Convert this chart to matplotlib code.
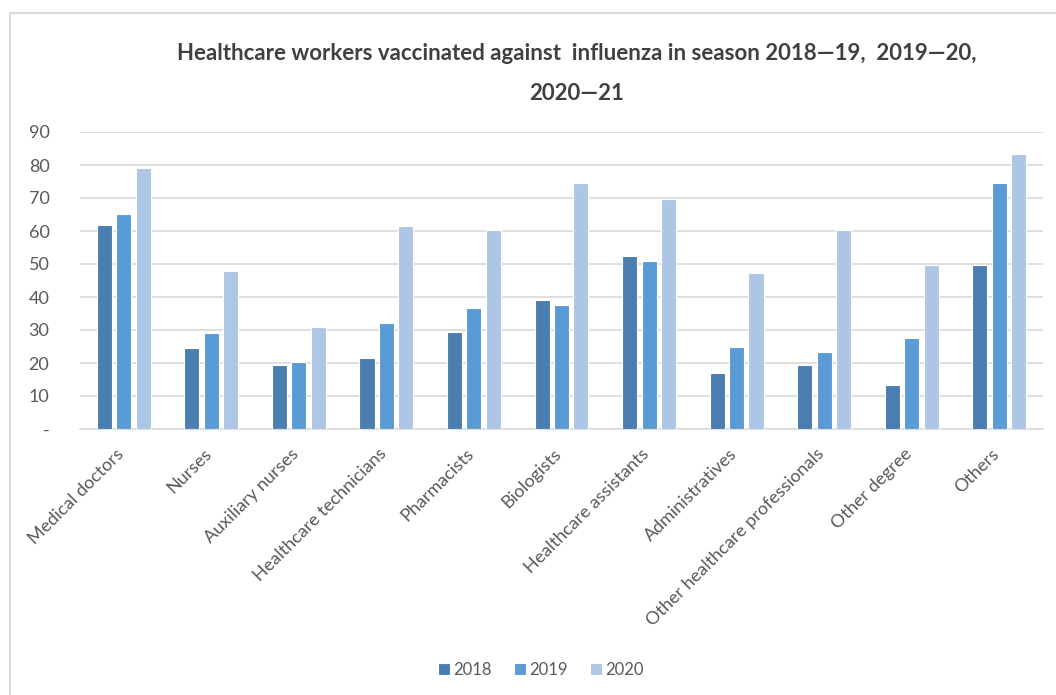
import matplotlib
matplotlib.use("Agg")
import matplotlib.pyplot as plt
import numpy as np
from matplotlib.patches import Rectangle
import matplotlib.transforms as mtransforms

categories = ["Medical doctors", "Nurses", "Auxiliary nurses", "Healthcare technicians",
              "Pharmacists", "Biologists", "Healthcare assistants", "Administratives",
              "Other healthcare professionals", "Other degree", "Others"]
v2018 = [61.7, 24.5, 19.4, 21.4, 29.5, 39.1, 52.3, 16.9, 19.4, 13.4, 49.8]
v2019 = [65.0, 29.0, 20.4, 32.0, 36.6, 37.6, 50.8, 25.0, 23.4, 27.5, 74.6]
v2020 = [79.0, 47.8, 31.0, 61.4, 60.4, 74.6, 69.6, 47.3, 60.4, 49.8, 83.2]
series_labels = ["2018", "2019", "2020"]
yticks = [0, 10, 20, 30, 40, 50, 60, 70, 80, 90]
ytick_labels = ["-", "10", "20", "30", "40", "50", "60", "70", "80", "90"]
title1 = "Healthcare workers vaccinated against  influenza in season 2018\u201419,  2019\u201420,"
title2 = "2020\u201421"

colors = ["#4A7EB0", "#5B9BD5", "#ADC6E5"]
W, H = 1056, 695
plt.rcParams['font.family'] = ['Lato', 'DejaVu Sans']
fig = plt.figure(figsize=(W / 100, H / 100), dpi=100)

# frame
fig.patches.append(Rectangle((10 / W, -0.2), 1.2, 1 - 13 / H + 0.2, transform=fig.transFigure,
                             fill=False, edgecolor="#D9D9D9", linewidth=1.5))

ax = fig.add_axes([80 / W, (H - 429) / H, (1043 - 80) / W, (429 - 132) / H])
x = np.arange(len(categories))
bw = 0.172
step = 0.222
for i, (vals, c, lab) in enumerate(zip([v2018, v2019, v2020], colors, series_labels)):
    ax.bar(x + (i - 1) * step, vals, width=bw, color=c, edgecolor="white", linewidth=0.8,
           label=lab, zorder=3)

ax.set_xlim(-0.5, len(categories) - 0.5)
ax.set_ylim(0, 90)
ax.set_yticks(yticks)
ax.set_yticklabels(ytick_labels)
ax.grid(axis="y", color="#D9D9D9", linewidth=1.2, zorder=0)
for s in ["top", "right", "left"]:
    ax.spines[s].set_visible(False)
ax.spines["bottom"].set_color("#D9D9D9")
ax.spines["bottom"].set_linewidth(1.2)
ax.tick_params(axis="both", length=0, colors="#595959", labelsize=13)
ax.tick_params(axis="y", pad=22)
ax.tick_params(axis="x", pad=12)
ax.set_xticks(x)
ax.set_xticklabels(categories, rotation=45, ha="right", rotation_mode="anchor")
off = mtransforms.ScaledTranslation(-8 / 100, 0, fig.dpi_scale_trans)
for lbl in ax.get_xticklabels():
    lbl.set_transform(lbl.get_transform() + off)

fig.text(577 / W, 1 - 53 / H, title1, ha="center", va="center", fontsize=16,
         fontweight="bold", color="#404040")
fig.text(577 / W, 1 - 93 / H, title2, ha="center", va="center", fontsize=16,
         fontweight="bold", color="#404040")

fig.legend(loc="center", bbox_to_anchor=(541 / W, 1 - 670 / H), ncol=3, frameon=False,
           handlelength=0.75, handleheight=0.75, handletextpad=0.2, columnspacing=1.3,
           fontsize=12, labelcolor="#595959")

fig.savefig("out.png", dpi=100)
